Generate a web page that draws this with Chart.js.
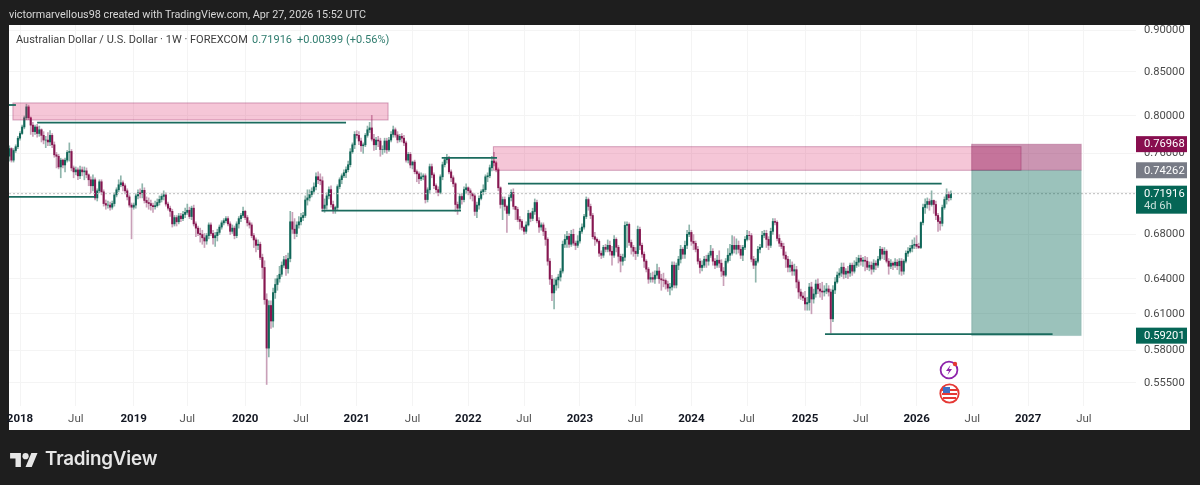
<!DOCTYPE html>
<html>
<head>
<meta charset="utf-8">
<title>AUD/USD 1W</title>
<script src="https://cdn.jsdelivr.net/npm/chart.js@4"></script>
<style>
  html, body { margin: 0; padding: 0; background: #1e1e1e; width: 1200px; height: 485px; overflow: hidden; font-family: Roboto, sans-serif; }
  #panel { position: absolute; left: 9px; top: 25px; width: 1181px; height: 405px; background: #fff; }
  canvas { position: absolute; left: 0; top: 0; }
  .txt { position: absolute; white-space: nowrap; }
  #credit { left: 9px; top: 8px; font-size: 10.8px; color: #d8d8d8; }
  .legend { top: 33px; font-size: 11px; }
  #logoText { left: 45px; top: 447px; font-size: 18.8px; font-weight: 600; color: #e6e6e6; font-family: Inter, Roboto, sans-serif; letter-spacing: -0.2px; }
  svg { position: absolute; }
</style>
</head>
<body>
<div id="panel"></div>
<canvas id="chart" width="1200" height="485"></canvas>
<div class="txt" id="credit">victormarvellous98 created with TradingView.com, Apr 27, 2026 15:52 UTC</div>
<div class="txt legend" style="left:16px;color:#3c3c3c">Australian Dollar / U.S. Dollar · 1W · FOREXCOM</div>
<div class="txt legend" style="left:252px;color:#2f7c6e">0.71916</div>
<div class="txt legend" style="left:297px;color:#2f7c6e">+0.00399 (+0.56%)</div>

<svg style="left:939px;top:360px" width="20" height="20" viewBox="0 0 20 20">
  <circle cx="10" cy="10" r="8.4" fill="#fff" stroke="#8e24aa" stroke-width="1.8"/>
  <path d="M11.5 5 L7 11 H10 L8.5 15 L13 9 H10 Z" fill="#8e24aa"/>
  <circle cx="16" cy="4" r="2.2" fill="#e53935"/>
</svg>
<svg style="left:939px;top:383px" width="21" height="21" viewBox="0 0 21 21">
  <circle cx="10.5" cy="10.5" r="9.2" fill="#fff" stroke="#e53935" stroke-width="1.8"/>
  <rect x="3" y="6" width="15" height="2" fill="#e53935"/>
  <rect x="3" y="10" width="15" height="2" fill="#e53935"/>
  <rect x="4" y="14" width="13" height="2" fill="#e53935"/>
  <rect x="4" y="4" width="7" height="6" fill="#3f6fc4"/>
</svg>

<svg style="left:10px;top:450px" width="28" height="17" viewBox="0 0 36 22">
  <path d="M14 22H7V11H0V4h14v18zM28 22h-8l7.5-18h8L28 22z" fill="#e6e6e6"/>
  <circle cx="20" cy="8" r="4" fill="#e6e6e6"/>
</svg>
<div class="txt" id="logoText">TradingView</div>

<script>
// semanas desde ene 2018: la primera vela es la -5
const firstWeek = -5;

// velas, 20 semanas por fila
const opens = [
  .757,.765,.753,.763,.767,.776,.781,.788,.798,.810,.798,.790,.783,.788,.781,.785,.779,.774,.774,.772,
  .779,.769,.7585,.757,.746,.753,.748,.753,.761,.762,.745,.741,.743,.737,.743,.741,.742,.738,.733,.727,
  .733,.715,.722,.731,.721,.7095,.708,.708,.706,.7095,.718,.723,.728,.730,.727,.722,.716,.708,.706,.708,
  .717,.720,.719,.7225,.7125,.7105,.7095,.7075,.7065,.7075,.7105,.7135,.7165,.718,.709,.705,.702,.690,.696,.692,
  .6975,.695,.699,.701,.703,.697,.705,.690,.686,.681,.680,.677,.674,.679,.689,.681,.677,.679,.682,.687,
  .691,.693,.695,.690,.683,.686,.679,.690,.695,.698,.702,.696,.691,.689,.679,.675,.670,.671,.659,.650,
  .622,.582,.617,.604,.628,.635,.640,.644,.652,.657,.649,.658,.692,.685,.681,.689,.692,.696,.698,.713,
  .715,.7183,.7215,.726,.7361,.733,.732,.7048,.708,.717,.7232,.7086,.7038,.7057,.7262,.7331,.737,.7401,.7432,.7483,
  .7617,.769,.780,.779,.773,.768,.769,.779,.785,.787,.775,.769,.774,.773,.764,.764,.773,.7637,.774,.780,
  .785,.7795,.7742,.778,.776,.771,.753,.759,.748,.751,.7412,.739,.734,.736,.737,.7134,.723,.7463,.738,.7271,
  .7232,.7205,.736,.7483,.7534,.7554,.741,.735,.729,.7086,.705,.7164,.7134,.7232,.725,.722,.719,.717,.7019,.708,
  .7145,.7212,.7232,.736,.737,.7452,.752,.7503,.7432,.725,.7086,.7134,.7067,.700,.7154,.7203,.7067,.7038,.6942,.6923,
  .6867,.683,.689,.700,.6952,.7018,.7105,.693,.687,.689,.683,.6755,.6556,.6397,.6277,.6345,.639,.6415,.6468,.671,
  .6755,.6783,.671,.6802,.672,.670,.674,.683,.687,.697,.7134,.7067,.698,.678,.6755,.6737,.6628,.661,.6682,.6664,
  .670,.6646,.661,.6755,.6682,.660,.6556,.6592,.6886,.6895,.6727,.6682,.6646,.6625,.6848,.670,.6619,.6556,.6485,.6397,
  .641,.6397,.6432,.6468,.640,.639,.6385,.6354,.6319,.6328,.652,.6345,.652,.6574,.6664,.6619,.670,.6802,.682,.6737,
  .6719,.6664,.6556,.650,.652,.6574,.6556,.661,.6646,.6556,.652,.6565,.6538,.6467,.6432,.6556,.661,.6628,.670,.6664,
  .670,.6664,.661,.6682,.6755,.6793,.679,.6574,.652,.6556,.6664,.6682,.6793,.6811,.6755,.670,.683,.6923,.6915,.6764,
  .6719,.6691,.661,.6574,.6502,.652,.6468,.648,.6372,.6285,.625,.6234,.6183,.6195,.6328,.6225,.6268,.6354,.6311,.6293,
  .6285,.6293,.6311,.6285,.6058,.6302,.6372,.6432,.645,.6502,.6441,.6467,.645,.652,.6467,.652,.6547,.6583,.6556,.6565,
  .6556,.6502,.652,.6485,.6538,.652,.6574,.6664,.6619,.6646,.6556,.6511,.6538,.652,.6547,.6515,.6556,.6467,.6556,.6628,
  .6646,.6673,.670,.671,.6691,.668,.6913,.7057,.7086,.7115,.7086,.7125,.7086,.698,.6923,.6905,.7057,.7134,.7183,.7152
];
const highs = [
  .768,.766,.765,.769,.778,.783,.790,.800,.813,.812,.799,.793,.790,.791,.789,.786,.783,.778,.782,.784,
  .781,.772,.761,.759,.755,.754,.755,.763,.771,.764,.747,.746,.745,.747,.746,.746,.745,.739,.736,.738,
  .735,.724,.733,.733,.723,.713,.712,.711,.712,.720,.725,.733,.737,.732,.729,.724,.718,.710,.710,.719,
  .723,.724,.729,.725,.716,.715,.713,.710,.712,.714,.717,.719,.722,.720,.711,.707,.704,.698,.698,.700,
  .700,.702,.705,.709,.706,.707,.708,.692,.688,.686,.684,.681,.681,.691,.691,.684,.682,.685,.689,.693,
  .695,.697,.697,.692,.689,.688,.692,.697,.700,.706,.703,.698,.693,.691,.681,.677,.675,.673,.662,.656,
  .627,.621,.621,.632,.640,.643,.651,.655,.660,.661,.663,.702,.701,.695,.692,.697,.700,.701,.717,.723,
  .723,.725,.730,.740,.741,.739,.736,.714,.720,.726,.727,.712,.707,.728,.735,.739,.743,.746,.752,.765,
  .771,.783,.784,.783,.776,.771,.781,.789,.793,.8007,.780,.777,.778,.776,.768,.776,.776,.777,.783,.789,
  .787,.783,.780,.781,.779,.773,.761,.761,.752,.753,.743,.741,.740,.739,.739,.725,.749,.749,.740,.729,
  .726,.738,.751,.756,.759,.757,.743,.737,.730,.711,.719,.719,.726,.729,.726,.724,.720,.719,.711,.717,
  .723,.728,.738,.740,.748,.757,.761,.752,.745,.726,.716,.716,.708,.718,.723,.724,.707,.706,.697,.694,
  .688,.692,.703,.701,.705,.714,.713,.696,.691,.691,.686,.677,.658,.643,.640,.641,.644,.649,.674,.680,
  .683,.681,.684,.685,.674,.679,.686,.690,.699,.716,.715,.709,.700,.682,.677,.675,.665,.670,.671,.675,
  .674,.669,.679,.677,.670,.662,.662,.692,.692,.691,.675,.670,.668,.688,.687,.672,.664,.657,.650,.645,
  .646,.647,.653,.650,.644,.645,.640,.638,.636,.655,.655,.654,.660,.670,.668,.674,.684,.689,.684,.680,
  .674,.669,.658,.656,.660,.661,.663,.670,.667,.658,.661,.665,.657,.650,.658,.667,.671,.679,.678,.676,
  .674,.670,.670,.678,.684,.683,.681,.660,.658,.669,.671,.683,.684,.684,.678,.686,.695,.695,.693,.680,
  .674,.672,.664,.660,.657,.655,.653,.651,.639,.631,.628,.629,.624,.636,.637,.631,.639,.640,.636,.637,
  .634,.636,.634,.631,.634,.641,.646,.649,.654,.654,.649,.651,.654,.654,.656,.659,.661,.661,.659,.660,
  .659,.655,.655,.657,.656,.660,.669,.668,.668,.666,.658,.657,.655,.658,.657,.658,.658,.657,.665,.668,
  .670,.675,.677,.679,.672,.692,.709,.714,.715,.714,.722,.713,.712,.700,.696,.708,.716,.724,.721,.722
];
const lows = [
  .752,.751,.751,.761,.765,.774,.780,.786,.796,.796,.780,.778,.780,.777,.778,.772,.770,.766,.768,.768,
  .766,.756,.745,.744,.735,.745,.741,.751,.752,.742,.735,.738,.733,.734,.737,.733,.735,.727,.720,.722,
  .713,.712,.720,.718,.707,.704,.705,.703,.704,.707,.716,.721,.726,.722,.719,.713,.706,.676,.704,.705,
  .714,.715,.715,.710,.706,.704,.703,.701,.704,.706,.708,.711,.713,.707,.703,.697,.687,.688,.688,.690,
  .692,.693,.696,.699,.695,.694,.688,.678,.679,.673,.671,.668,.671,.676,.679,.671,.669,.674,.680,.685,
  .689,.691,.688,.680,.681,.676,.677,.686,.692,.696,.694,.688,.686,.677,.668,.664,.666,.657,.640,.618,
  .5537,.575,.598,.599,.623,.630,.637,.642,.650,.643,.645,.655,.681,.676,.678,.686,.689,.693,.696,.708,
  .712,.716,.719,.723,.729,.728,.702,.701,.704,.714,.706,.700,.700,.703,.724,.729,.735,.735,.741,.746,
  .760,.765,.776,.769,.762,.760,.767,.777,.782,.773,.763,.764,.767,.757,.759,.761,.760,.762,.772,.777,
  .777,.771,.772,.772,.768,.751,.750,.745,.744,.739,.731,.729,.732,.733,.710,.711,.720,.735,.724,.720,
  .717,.719,.733,.746,.750,.739,.731,.726,.702,.699,.703,.709,.711,.720,.718,.714,.712,.698,.696,.704,
  .713,.718,.721,.731,.735,.742,.747,.741,.722,.705,.694,.703,.682,.698,.712,.704,.694,.692,.685,.684,
  .680,.681,.688,.692,.693,.699,.691,.682,.684,.679,.670,.652,.635,.621,.614,.630,.632,.638,.645,.668,
  .668,.668,.669,.670,.666,.668,.672,.681,.685,.695,.703,.695,.676,.670,.672,.660,.658,.659,.664,.664,
  .661,.652,.659,.664,.654,.646,.652,.656,.668,.670,.662,.660,.657,.660,.666,.659,.650,.646,.636,.637,
  .637,.636,.640,.636,.630,.633,.631,.629,.626,.630,.632,.632,.648,.654,.658,.658,.667,.678,.670,.666,
  .664,.653,.645,.647,.650,.650,.652,.659,.652,.649,.650,.650,.642,.634,.642,.654,.656,.661,.663,.662,
  .663,.658,.656,.666,.674,.675,.655,.649,.637,.654,.663,.668,.677,.668,.666,.668,.680,.689,.674,.669,
  .667,.658,.650,.646,.646,.643,.643,.632,.623,.622,.621,.613,.613,.613,.610,.619,.624,.627,.624,.622,
  .625,.627,.625,.594,.6035,.627,.636,.641,.642,.640,.641,.640,.642,.643,.645,.650,.651,.652,.651,.647,
  .648,.647,.644,.646,.648,.650,.656,.658,.657,.654,.644,.649,.648,.650,.648,.644,.643,.644,.654,.660,
  .663,.664,.667,.667,.667,.667,.689,.700,.705,.703,.707,.700,.694,.683,.684,.688,.704,.709,.712,.713
];
const closes = [
  .765,.753,.763,.767,.776,.781,.788,.798,.810,.798,.790,.783,.788,.781,.785,.779,.774,.774,.772,.779,
  .769,.7585,.757,.746,.753,.748,.753,.761,.762,.745,.741,.743,.737,.743,.741,.742,.738,.733,.727,.733,
  .715,.722,.731,.721,.7095,.708,.708,.706,.7095,.718,.723,.728,.730,.727,.722,.716,.708,.706,.708,.717,
  .720,.719,.7225,.7125,.7105,.7095,.7075,.7065,.7075,.7105,.7135,.7165,.718,.709,.705,.702,.690,.696,.692,.6975,
  .695,.699,.701,.703,.697,.705,.690,.686,.681,.680,.677,.674,.679,.689,.681,.677,.679,.682,.687,.691,
  .693,.695,.690,.683,.686,.679,.690,.695,.698,.702,.696,.691,.689,.679,.675,.670,.671,.659,.650,.622,
  .582,.617,.604,.628,.635,.640,.644,.652,.657,.649,.658,.692,.685,.681,.689,.692,.696,.698,.713,.715,
  .7183,.7215,.726,.7361,.733,.732,.7048,.708,.717,.7232,.7086,.7038,.7057,.7262,.7331,.737,.7401,.7432,.7483,.7617,
  .769,.780,.779,.773,.768,.769,.779,.785,.787,.775,.769,.774,.773,.764,.764,.773,.7637,.774,.780,.785,
  .7795,.7742,.778,.776,.771,.753,.759,.748,.751,.7412,.739,.734,.736,.737,.7134,.723,.7463,.738,.7271,.7232,
  .7205,.736,.7483,.7534,.7554,.741,.735,.729,.7086,.705,.7164,.7134,.7232,.725,.722,.719,.717,.7019,.708,.7145,
  .7212,.7232,.736,.737,.7452,.752,.7503,.7432,.725,.7086,.7134,.7067,.700,.7154,.7203,.7067,.7038,.6942,.6923,.6867,
  .683,.689,.700,.6952,.7018,.7105,.693,.687,.689,.683,.6755,.6556,.6397,.6277,.6345,.639,.6415,.6468,.671,.6755,
  .6783,.671,.6802,.672,.670,.674,.683,.687,.697,.7134,.7067,.698,.678,.6755,.6737,.6628,.661,.6682,.6664,.670,
  .6646,.661,.6755,.6682,.660,.6556,.6592,.6886,.6895,.6727,.6682,.6646,.6625,.6848,.670,.6619,.6556,.6485,.6397,.641,
  .6397,.6432,.6468,.640,.639,.6385,.6354,.6319,.6328,.652,.6345,.652,.6574,.6664,.6619,.670,.6802,.682,.6737,.6719,
  .6664,.6556,.650,.652,.6574,.6556,.661,.6646,.6556,.652,.6565,.6538,.6467,.6432,.6556,.661,.6628,.670,.6664,.670,
  .6664,.661,.6682,.6755,.6793,.679,.6574,.652,.6556,.6664,.6682,.6793,.6811,.6755,.670,.683,.6923,.6915,.6764,.6719,
  .6691,.661,.6574,.6502,.652,.6468,.648,.6372,.6285,.625,.6234,.6183,.6195,.6328,.6225,.6268,.6354,.6311,.6293,.6285,
  .6293,.6311,.6285,.6058,.6302,.6372,.6432,.645,.6502,.6441,.6467,.645,.652,.6467,.652,.6547,.6583,.6556,.6565,.6556,
  .6502,.652,.6485,.6538,.652,.6574,.6664,.6619,.6646,.6556,.6511,.6538,.652,.6547,.6515,.6556,.6467,.6556,.6628,.6646,
  .6673,.670,.671,.6691,.668,.6913,.7057,.7086,.7115,.7086,.7125,.7086,.698,.6923,.6905,.7057,.7134,.7183,.7152,.71916
];

// ejes
const weekTicks = [0, 26, 53, 78, 105, 131, 157, 183, 209, 235, 261, 287, 313, 339, 366, 392, 418, 444, 470, 496];
const weekLabels = ['2018', 'Jul', '2019', 'Jul', '2020', 'Jul', '2021', 'Jul', '2022', 'Jul', '2023', 'Jul', '2024', 'Jul', '2025', 'Jul', '2026', 'Jul', '2027', 'Jul'];
const priceTicks = [0.9, 0.85, 0.8, 0.76, 0.72, 0.68, 0.64, 0.61, 0.58, 0.555];
const hiddenTick = 0.72;
const currentPrice = 0.71916;

// zonas dibujadas: semana inicial, semana final, precio alto, precio bajo
const zoneStart = [-3.3, 220.7, 443.6, 443.6];
const zoneEnd = [171.6, 466.7, 494.8, 494.8];
const zoneTop = [0.8144, 0.767, 0.76968, 0.74262];
const zoneBottom = [0.7956, 0.7426, 0.74262, 0.59201];
const zoneFill = ['rgba(216,27,96,.25)', 'rgba(216,27,96,.25)', 'rgba(136,14,79,.44)', 'rgba(5,102,86,.4)'];
const zoneEdge = ['rgba(136,14,79,.35)', 'rgba(136,14,79,.35)', 'rgba(136,14,79,.2)', 'rgba(5,102,86,.1)'];

// lineas horizontales
const lineStart = [-5.13, 8, -5.13, 140.6, 196.6, 227.5, 375.3];
const lineEnd = [-1.9, 152, 35, 205.6, 222.4, 429.7, 481.4];
const linePrice = [0.8121, 0.7927, 0.716, 0.7026, 0.7554, 0.7291, 0.5933];

// etiquetas del eje de precios
const boxPrice = [0.76968, 0.74262, 0.71916, 0.59201];
const boxText = ['0.76968', '0.74262', '0.71916', '0.59201'];
const boxSub = ['', '', '4d 6h', ''];
const boxColor = ['#880e4f', '#787b86', '#056656', '#056656'];

const upBody = '#0f6658', downBody = '#861650';
const upWick = '#8fb5ac', downWick = '#c9a0b8';

const isUp = i => closes[i] >= opens[i];
const wickData = lows.map((l, i) => ({ x: firstWeek + i, y: [l, highs[i]] }));
const bodyData = opens.map((o, i) => ({ x: firstWeek + i, y: [o, closes[i]] }));

const overlayPlugin = {
  id: 'overlay',
  afterDatasetsDraw(chart) {
    const { ctx, chartArea, scales: { x, y } } = chart;
    ctx.save();

    // linea de precio actual
    ctx.strokeStyle = '#bdbdbd';
    ctx.lineWidth = 1;
    ctx.setLineDash([2, 2]);
    const cy = y.getPixelForValue(currentPrice);
    ctx.beginPath();
    ctx.moveTo(chartArea.left, cy);
    ctx.lineTo(chartArea.right, cy);
    ctx.stroke();
    ctx.setLineDash([]);

    zoneStart.forEach((s, i) => {
      const x0 = x.getPixelForValue(s), x1 = x.getPixelForValue(zoneEnd[i]);
      const y0 = y.getPixelForValue(zoneTop[i]), y1 = y.getPixelForValue(zoneBottom[i]);
      ctx.fillStyle = zoneFill[i];
      ctx.fillRect(x0, y0, x1 - x0, y1 - y0);
      ctx.strokeStyle = zoneEdge[i];
      ctx.strokeRect(x0, y0, x1 - x0, y1 - y0);
    });

    ctx.strokeStyle = '#1b6b5e';
    ctx.lineWidth = 1.8;
    lineStart.forEach((s, i) => {
      const ly = y.getPixelForValue(linePrice[i]);
      ctx.beginPath();
      ctx.moveTo(x.getPixelForValue(s), ly);
      ctx.lineTo(x.getPixelForValue(lineEnd[i]), ly);
      ctx.stroke();
    });
    ctx.restore();
  },
  afterDraw(chart) {
    const { ctx, chartArea, scales: { y } } = chart;
    ctx.save();
    ctx.font = '11.2px Roboto';
    ctx.textBaseline = 'middle';
    boxPrice.forEach((p, i) => {
      const py = y.getPixelForValue(p);
      const h = boxSub[i] ? 28 : 16;
      const top = py - 8;
      ctx.fillStyle = boxColor[i];
      ctx.fillRect(chartArea.right, top, 51, h);
      ctx.fillStyle = '#fff';
      ctx.fillText(boxText[i], chartArea.right + 8, py + 0.5);
      if (boxSub[i]) {
        ctx.fillStyle = '#c9e0db';
        ctx.fillText(boxSub[i], chartArea.right + 8, py + 13);
      }
    });
    ctx.restore();
  }
};

new Chart(document.getElementById('chart').getContext('2d'), {
  type: 'bar',
  data: {
    datasets: [
      {
        data: wickData,
        order: 2,
        grouped: false,
        barThickness: 1,
        backgroundColor: c => isUp(c.dataIndex) ? upWick : downWick
      },
      {
        data: bodyData,
        order: 1,
        grouped: false,
        barThickness: 1.4,
        backgroundColor: c => isUp(c.dataIndex) ? upBody : downBody
      }
    ]
  },
  options: {
    responsive: false,
    animation: false,
    devicePixelRatio: 1,
    layout: { padding: { left: 9, top: 25, right: 10, bottom: 55 } },
    plugins: { legend: { display: false }, tooltip: { enabled: false } },
    scales: {
      x: {
        type: 'linear',
        offset: false,
        min: -5.13,
        max: 520.3,
        grid: { offset: false, color: '#f4f4f4', drawTicks: false },
        border: { display: false },
        afterBuildTicks: s => { s.ticks = weekTicks.map(v => ({ value: v })); },
        afterFit: s => { s.height = 24; },
        ticks: {
          autoSkip: false,
          maxRotation: 0,
          padding: 6,
          callback: v => weekLabels[weekTicks.indexOf(v)],
          color: c => weekLabels[c.index] === 'Jul' ? '#555' : '#131722',
          font: c => ({ family: 'Roboto', size: 11.5, weight: weekLabels[c.index] === 'Jul' ? 'normal' : 'bold' })
        }
      },
      y: {
        type: 'logarithmic',
        position: 'right',
        min: 0.5376,
        max: 0.9062,
        grid: { color: '#f4f4f4', drawTicks: false },
        border: { display: false },
        afterBuildTicks: s => { s.ticks = priceTicks.map(v => ({ value: v })); },
        afterFit: s => { s.width = 54; },
        ticks: {
          autoSkip: false,
          padding: 8,
          color: '#4a4a4a',
          font: { family: 'Roboto', size: 11.2 },
          callback: v => v === hiddenTick ? '' : v.toFixed(5)
        }
      }
    }
  },
  plugins: [overlayPlugin]
});
</script>
</body>
</html>
